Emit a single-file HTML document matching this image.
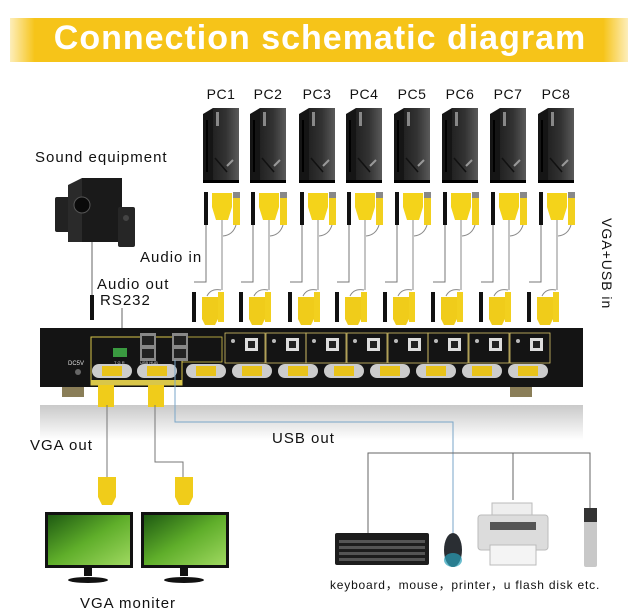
<!DOCTYPE html>
<html><head><meta charset="utf-8"><style>
html,body{margin:0;padding:0;background:#fff;}
svg{display:block;font-family:"Liberation Sans",sans-serif;}
</style></head><body>
<svg width="640" height="613" viewBox="0 0 640 613" xmlns="http://www.w3.org/2000/svg">
<defs>
<linearGradient id="ban" x1="0" x2="1" y1="0" y2="0">
<stop offset="0" stop-color="#f7c51a" stop-opacity="0.3"/><stop offset="0.04" stop-color="#f6c419"/><stop offset="0.96" stop-color="#f6c419"/><stop offset="1" stop-color="#f7c51a" stop-opacity="0.3"/></linearGradient>
<linearGradient id="tow" x1="0" x2="1"><stop offset="0" stop-color="#222"/><stop offset="0.5" stop-color="#333"/><stop offset="1" stop-color="#5a5a5a"/></linearGradient>
<linearGradient id="scr" x1="0" x2="1" y1="0" y2="1"><stop offset="0" stop-color="#1e5a12"/><stop offset="0.5" stop-color="#5fae2a"/><stop offset="1" stop-color="#9fd860"/></linearGradient>
<linearGradient id="refl" x1="0" x2="0" y1="0" y2="1"><stop offset="0" stop-color="#c9c9c9"/><stop offset="1" stop-color="#fff"/></linearGradient>
<g id="pc">
<path d="M-18 114 L-8 108 V180 H-18Z" fill="#151515"/>
<rect x="-8" y="108" width="26" height="72" fill="url(#tow)"/>
<rect x="-18" y="180" width="36" height="3" fill="#000"/>
<rect x="-15" y="120" width="2" height="52" fill="#000"/>
<rect x="-5" y="112" width="3" height="14" fill="#888"/>
<line x1="-6" y1="158" x2="6" y2="172" stroke="#111" stroke-width="1.5"/>
<line x1="6" y1="166" x2="12" y2="160" stroke="#999" stroke-width="2"/>
<!-- top cables -->
<rect x="-17" y="192" width="4" height="33" fill="#111"/>
<path d="M-9 193 h20 v14 l-4 13 h-12 l-4 -13z" fill="#f4d31a"/>
<rect x="12" y="192" width="7" height="6" fill="#888"/>
<rect x="12" y="198" width="7" height="27" fill="#f2d01e"/>
<path d="M-15 225 V282 H-27" fill="none" stroke="#777" stroke-width="1"/>
<path d="M1 220 V290" fill="none" stroke="#888" stroke-width="1"/>
<path d="M15 225 Q12 235 2 236" fill="none" stroke="#888" stroke-width="1"/>
<!-- bottom -->
<rect x="-29" y="292" width="4" height="30" fill="#111"/>
<path d="M-19 297 h16 v22 l-3 6 h-10 l-3 -6z" fill="#f0cc1a"/>
<rect x="-3" y="292" width="6" height="30" fill="#f2d01e"/>
<path d="M-14 296 Q-10 288 0 290" fill="none" stroke="#888" stroke-width="1"/>
</g>
<g id="vga"><rect x="-4" y="0" width="40" height="14" rx="7" fill="#ccc"/><rect x="6" y="2" width="20" height="10" fill="#e8c21a"/></g>
<g id="usbp"><rect x="0" y="0" width="40" height="30" fill="none" stroke="#d8c46a" stroke-width="0.8"/><circle cx="8" cy="8" r="2" fill="#bbb"/><rect x="20" y="5" width="13" height="13" fill="#ddd"/><rect x="23" y="8" width="7" height="7" fill="#222"/></g>
</defs>
<rect width="640" height="613" fill="#fff"/>
<rect x="10" y="18" width="618" height="44" fill="url(#ban)"/>
<text x="320" y="49" text-anchor="middle" font-size="34" font-weight="bold" fill="#fff" letter-spacing="1">Connection schematic diagram</text>

<g font-size="14" fill="#111" letter-spacing="0.5">
<text x="221" y="99" text-anchor="middle">PC1</text><text x="268" y="99" text-anchor="middle">PC2</text><text x="317" y="99" text-anchor="middle">PC3</text><text x="364" y="99" text-anchor="middle">PC4</text><text x="412" y="99" text-anchor="middle">PC5</text><text x="460" y="99" text-anchor="middle">PC6</text><text x="508" y="99" text-anchor="middle">PC7</text><text x="556" y="99" text-anchor="middle">PC8</text>
</g>
<use href="#pc" x="221"/><use href="#pc" x="268"/><use href="#pc" x="317"/><use href="#pc" x="364"/><use href="#pc" x="412"/><use href="#pc" x="460"/><use href="#pc" x="508"/><use href="#pc" x="556"/>

<text x="35" y="162" font-size="15" letter-spacing="1" fill="#111">Sound equipment</text>
<!-- speakers -->
<rect x="55" y="197" width="15" height="35" rx="2" fill="#222"/>
<path d="M68 185 L82 178 L122 178 L122 242 L68 242Z" fill="#2a2a2a"/>
<rect x="82" y="178" width="40" height="64" fill="#1a1a1a"/>
<circle cx="82" cy="205" r="8" fill="#0a0a0a" stroke="#555"/>
<rect x="118" y="207" width="17" height="40" rx="2" fill="#262626"/>
<circle cx="126" cy="218" r="3" fill="#444"/>
<line x1="92" y1="242" x2="92" y2="295" stroke="#666"/>
<rect x="90" y="295" width="4" height="25" fill="#111"/>
<text x="140" y="262" font-size="15" letter-spacing="1" fill="#111">Audio in</text>
<text x="97" y="289" font-size="15" letter-spacing="1" fill="#111">Audio out</text>
<text x="100" y="305" font-size="15" letter-spacing="1" fill="#111">RS232</text>
<line x1="122" y1="308" x2="122" y2="340" stroke="#666"/>
<text transform="translate(602,218) rotate(90)" font-size="14" letter-spacing="1" fill="#111">VGA+USB in</text>

<!-- device -->
<rect x="40" y="405" width="543" height="35" fill="url(#refl)"/>
<rect x="62" y="385" width="22" height="12" fill="#8a7e58"/><rect x="510" y="385" width="22" height="12" fill="#8a7e58"/>
<rect x="40" y="328" width="543" height="59" fill="#141414"/>
<rect x="91" y="337" width="91" height="48" fill="none" stroke="#d9c64a" stroke-width="1"/>
<rect x="91" y="380" width="91" height="5" fill="#d9c64a"/>
<rect x="182" y="337" width="40" height="25" fill="none" stroke="#d9c64a" stroke-width="0.8"/>
<rect x="140" y="333" width="16" height="28" fill="#888"/><rect x="142" y="336" width="12" height="9" fill="#222"/><rect x="142" y="349" width="12" height="9" fill="#222"/>
<rect x="172" y="333" width="16" height="28" fill="#888"/><rect x="174" y="336" width="12" height="9" fill="#222"/><rect x="174" y="349" width="12" height="9" fill="#222"/>
<rect x="113" y="348" width="14" height="9" fill="#3a9a40"/>
<text x="114" y="364" font-size="4" fill="#ddd">T G R</text>
<text x="140" y="364" font-size="4" fill="#ddd">USB HUB</text>
<text x="68" y="365" font-size="6" fill="#ddd">DC5V</text>
<circle cx="78" cy="372" r="3" fill="#666"/>
<use href="#usbp" x="225" y="333"/><use href="#usbp" x="266" y="333"/><use href="#usbp" x="306" y="333"/><use href="#usbp" x="347" y="333"/><use href="#usbp" x="388" y="333"/><use href="#usbp" x="428" y="333"/><use href="#usbp" x="469" y="333"/><use href="#usbp" x="510" y="333"/>
<use href="#vga" x="96" y="364"/><use href="#vga" x="141" y="364"/>
<use href="#vga" x="190" y="364"/><use href="#vga" x="236" y="364"/><use href="#vga" x="282" y="364"/><use href="#vga" x="328" y="364"/><use href="#vga" x="374" y="364"/><use href="#vga" x="420" y="364"/><use href="#vga" x="466" y="364"/><use href="#vga" x="512" y="364"/>

<!-- vga out cables -->
<rect x="98" y="385" width="16" height="22" fill="#f0cc1a"/><rect x="148" y="385" width="16" height="22" fill="#f0cc1a"/>
<line x1="107" y1="405" x2="107" y2="477" stroke="#777"/>
<path d="M155 405 V462 H183 V477" fill="none" stroke="#777"/>
<path d="M98 477 h18 v20 l-4 8 h-10 l-4 -8z" fill="#f0cc1a"/>
<path d="M175 477 h18 v20 l-4 8 h-10 l-4 -8z" fill="#f0cc1a"/>
<text x="30" y="450" font-size="15" letter-spacing="1" fill="#111">VGA out</text>

<!-- usb line -->
<path d="M175 360 V422 H453 V533" fill="none" stroke="#7aa6c8" stroke-width="1"/>
<text x="272" y="443" font-size="15" letter-spacing="1" fill="#111">USB out</text>
<path d="M368 533 V453 H590 V510 M513 453 V500" fill="none" stroke="#666"/>

<!-- monitors -->
<rect x="45" y="512" width="88" height="56" fill="#111"/><rect x="48" y="515" width="82" height="50" fill="url(#scr)"/>
<rect x="84" y="568" width="8" height="8" fill="#111"/><ellipse cx="88" cy="580" rx="20" ry="3" fill="#111"/>
<rect x="141" y="512" width="88" height="56" fill="#111"/><rect x="144" y="515" width="82" height="50" fill="url(#scr)"/>
<rect x="180" y="568" width="8" height="8" fill="#111"/><ellipse cx="184" cy="580" rx="20" ry="3" fill="#111"/>
<text x="80" y="608" font-size="15" letter-spacing="1" fill="#111">VGA moniter</text>

<!-- peripherals -->
<rect x="335" y="533" width="94" height="32" rx="2" fill="#1d1d1d"/>
<g fill="#555"><rect x="339" y="540" width="86" height="3"/><rect x="339" y="546" width="86" height="3"/><rect x="339" y="552" width="86" height="3"/><rect x="339" y="558" width="86" height="3"/></g>
<ellipse cx="453" cy="550" rx="9" ry="17" fill="#2a2e33"/><ellipse cx="453" cy="560" rx="9" ry="7" fill="#2aa0b8" opacity="0.7"/>
<rect x="492" y="503" width="40" height="14" fill="#eee" stroke="#bbb"/>
<rect x="478" y="515" width="70" height="35" rx="3" fill="#dcdcdc" stroke="#bbb"/>
<rect x="490" y="522" width="46" height="8" fill="#555"/>
<rect x="490" y="545" width="46" height="20" fill="#f4f4f4" stroke="#bbb"/>
<rect x="584" y="508" width="13" height="59" rx="2" fill="#c8c8c8"/><rect x="584" y="508" width="13" height="14" fill="#333"/>
<text x="330" y="589" font-size="12" letter-spacing="0.8" fill="#111">keyboard，mouse，printer，u flash disk etc.</text>
</svg>
</body></html>
